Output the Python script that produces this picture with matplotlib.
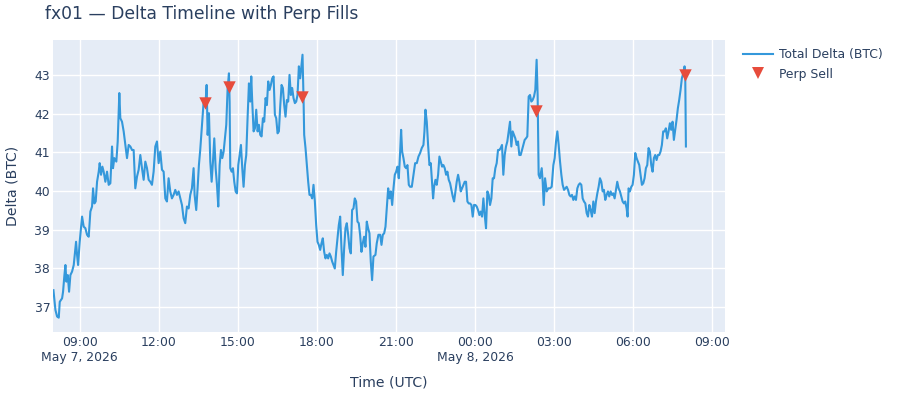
import matplotlib
matplotlib.use("Agg")
import matplotlib.pyplot as plt
from matplotlib.lines import Line2D
import pandas as pd

# ---------------- data ----------------
start_time = "2026-05-07 08:00"

# minutes after start
delta_minutes = [
    0, 4.5, 8.3, 12.1, 14.4, 19.7, 21.9, 25.0, 27.3, 29.5, 32.6, 35.6, 38.6, 42.4, 46.2,
    49.2, 51.5, 53.8, 56.1, 59.8, 65.2, 68.9, 72.7, 76.5, 80.3, 84.1, 87.9, 90.2, 93.2,
    96.2, 99.3, 103.1, 105.3, 108.4, 111.4, 114.4, 118.2, 122.0, 125.8, 129.6, 133.4,
    135.6, 138.7, 143.2, 146.3, 150.0, 152.3, 156.1, 159.9, 163.7, 167.5, 171.3, 175.1,
    178.9, 182.6, 186.4, 190.2, 194.0, 197.8, 201.6, 205.4, 209.2, 213.0, 216.8, 220.5,
    224.3, 228.1, 231.9, 235.7, 239.5, 243.3, 247.1, 250.9, 254.7, 258.4, 262.2, 266.0,
    269.8, 273.6, 277.4, 281.2, 285.0, 288.8, 292.6, 296.3, 300.1, 303.9, 307.7, 311.5,
    315.3, 319.1, 321.4, 325.1, 328.2, 331.2, 334.2,
    338.2, 342.0, 345.8, 348.8, 351.1, 354.1, 357.1, 360.2, 363.2, 366.2, 369.3, 372.3,
    375.3, 378.4, 381.4, 384.4, 387.5, 390.5, 393.5, 396.6, 399.6, 401.1, 402.6, 405.7,
    408.7, 411.7, 414.8, 417.8, 420.8, 423.8, 426.9, 429.9, 432.9, 436.0, 439.0, 442.0,
    445.1, 448.1, 450.4, 452.6, 455.7, 458.7, 461.7, 464.8, 467.8, 470.8, 473.9, 476.9,
    479.9, 483.0, 486.0, 489.0, 492.1, 495.1, 498.1, 501.2, 504.2, 507.2, 510.3, 513.3,
    516.3, 519.4, 522.4, 525.4, 528.4, 531.5, 534.5, 537.5, 540.6, 543.6, 546.6, 549.7,
    552.7, 555.7, 558.8, 561.8, 564.8, 567.1, 569.4, 570.9, 573.9, 577.0, 580.0, 583.0,
    586.1, 589.1, 592.1, 595.2, 598.2, 601.2, 604.2, 607.3, 610.3, 613.3, 616.4, 619.4,
    622.4, 625.5, 628.5, 631.5, 634.6, 637.6, 640.6, 643.7, 646.7, 649.7, 652.8, 655.8,
    658.8, 661.9, 664.9, 667.9, 671.0, 674.0, 677.0, 680.0, 683.1, 686.1, 689.1, 692.2,
    695.2, 698.2, 701.3, 704.3, 707.3, 710.4, 713.4, 716.4, 719.5, 722.5, 725.5, 728.6,
    733.1, 736.1, 739.9,
    743.9, 746.9, 749.9, 753.0, 756.0, 759.0, 762.1, 765.1, 768.1, 771.2, 774.2, 777.2,
    780.3, 783.3, 786.3, 789.4, 791.6, 793.9, 796.9, 800.0, 803.0, 806.0, 809.1, 812.1,
    815.9, 819.7, 823.5, 827.3, 831.1, 834.8, 838.6, 842.4, 844.7, 847.0, 850.0, 853.0,
    856.1, 859.1, 862.1, 864.4, 866.7, 869.7, 872.7, 875.8, 878.8, 881.8, 884.9, 887.9,
    890.9, 894.0, 897.0, 900.0, 903.1, 906.1, 909.1, 912.2, 915.2, 918.2, 921.3, 924.3,
    927.3, 930.3, 933.4, 936.4, 939.4, 942.5, 945.5, 948.5, 951.6, 954.6, 957.6, 960.7,
    963.7, 966.7, 969.8, 972.8, 975.8, 978.9, 981.9, 984.9, 988.0, 991.0, 994.0, 997.1,
    1000.1, 1003.1, 1006.1, 1009.2, 1012.2, 1015.2, 1018.3, 1021.3, 1024.3, 1027.4,
    1030.4, 1033.4, 1036.5, 1039.5, 1042.5, 1045.6, 1048.6, 1051.6, 1054.7, 1057.7,
    1060.7, 1063.8, 1066.8, 1069.8, 1072.9, 1075.9, 1078.9, 1082.0, 1085.0, 1088.0,
    1091.0, 1094.1, 1097.1, 1100.1, 1102.4, 1104.7, 1107.7,
    1111.7, 1113.9, 1116.2, 1119.3, 1123.0, 1126.8, 1130.6, 1134.4, 1138.2, 1141.2,
    1144.3, 1147.3, 1150.3, 1153.4, 1156.4, 1159.4, 1162.5, 1165.5, 1168.5, 1171.6,
    1174.6, 1177.6, 1180.6, 1183.7, 1186.7, 1189.7, 1192.8, 1195.8, 1198.8, 1201.9,
    1204.9, 1207.9, 1211.0, 1214.0, 1217.0, 1220.1, 1223.1, 1226.1, 1229.2, 1232.2,
    1235.2, 1238.3, 1241.3, 1244.3, 1247.4, 1250.4, 1253.4, 1256.4, 1259.5, 1262.5,
    1265.5, 1268.6, 1271.6, 1274.6, 1277.7, 1280.7, 1283.7, 1286.8, 1289.8, 1292.8,
    1295.9, 1298.9, 1301.9, 1305.0, 1307.2, 1309.5, 1312.5, 1315.6, 1318.6, 1321.6,
    1324.7, 1327.7, 1330.7, 1333.8, 1336.8, 1339.8, 1342.9, 1345.9, 1348.9, 1352.0,
    1355.0, 1358.0, 1361.1, 1364.1, 1367.1, 1370.1, 1373.2, 1376.2, 1379.2, 1382.3,
    1385.3, 1388.3, 1391.4, 1394.4, 1397.4, 1400.5, 1403.5, 1406.5, 1409.6, 1412.6,
    1415.6, 1418.7, 1421.7, 1424.7, 1427.8, 1430.8, 1433.8, 1436.9, 1438.4, 1439.1, 1440.0,
]

total_delta_btc = [
    37.44, 36.93, 36.76, 36.73, 37.14, 37.23, 37.40, 37.83, 38.09, 37.66, 37.83, 37.40, 37.83, 37.92, 38.09,
    38.43, 38.69, 38.35, 38.09, 38.69, 39.34, 39.08, 39.04, 38.87, 38.82, 39.47, 39.60, 40.07, 39.68,
    39.73, 40.24, 40.50, 40.72, 40.42, 40.63, 40.50, 40.24, 40.50, 40.16, 40.20, 41.15,
    40.59, 40.85, 40.76, 41.28, 42.53, 41.88, 41.79, 41.54, 41.19, 40.85, 41.19, 41.15,
    41.06, 41.06, 40.07, 40.37, 40.55, 40.93, 40.59, 40.29, 40.76, 40.59, 40.29, 40.24,
    40.16, 40.50, 41.15, 41.28, 40.72, 41.02, 40.55, 40.50, 39.81, 39.73, 40.33, 39.99,
    39.81, 39.90, 40.03, 39.90, 39.99, 39.81, 39.64, 39.30, 39.17, 39.60, 39.55, 39.90,
    40.07, 40.59, 39.90, 39.51, 40.07, 40.67, 41.06,
    41.71, 42.31, 42.18, 42.74, 41.45, 42.01, 40.76, 40.24, 40.76, 41.36, 40.59, 40.16,
    39.60, 40.67, 41.06, 40.85, 41.02, 41.36, 41.71, 42.66, 43.04, 42.31, 40.59, 40.50,
    40.59, 40.24, 39.99, 39.94, 40.67, 40.93, 41.19, 40.59, 40.11, 40.67, 40.93, 41.88,
    42.78, 42.31, 42.96, 42.31, 41.54, 41.62, 42.10, 41.54, 41.71, 41.45, 41.41, 41.88,
    41.79, 42.40, 42.22, 42.83, 42.61, 42.74, 42.91, 42.96, 41.97, 41.88, 41.49, 41.54,
    42.18, 42.74, 42.66, 42.22, 41.92, 42.35, 42.31, 43.00, 42.48, 42.66, 42.40, 42.27,
    42.31, 42.48, 43.22, 42.91, 43.26, 43.52, 42.40, 41.45, 41.11, 40.67, 40.24, 39.90,
    39.90, 39.81, 40.16, 39.73, 39.12, 38.69, 38.61, 38.48, 38.65, 38.78, 38.43, 38.26,
    38.35, 38.26, 38.39, 38.31, 38.18, 38.09, 38.00, 38.43, 38.78, 39.12, 39.34, 38.52,
    37.83, 38.52, 39.04, 39.17, 38.87, 38.52, 38.39, 39.51, 39.55, 39.81, 39.73, 39.21,
    39.17, 38.87, 38.43, 38.65, 38.82, 38.56, 39.21, 39.04, 38.91, 38.18, 37.70, 38.31,
    38.35, 38.65, 38.87,
    38.87, 38.61, 38.87, 38.91, 39.08, 39.55, 40.07, 39.81, 39.99, 39.64, 40.07, 40.42,
    40.50, 40.63, 40.33, 41.02, 41.58, 41.02, 40.85, 40.63, 40.59, 40.67, 40.16, 40.11,
    40.11, 40.42, 40.72, 40.72, 40.89, 40.98, 41.11, 41.19, 41.54, 42.10, 41.79, 41.19,
    40.67, 40.72, 40.20, 39.81, 40.11, 40.29, 40.16, 40.42, 40.89, 40.76, 40.63, 40.67,
    40.59, 40.42, 40.50, 40.29, 40.20, 40.03, 39.86, 39.73, 39.99, 40.24, 40.42, 40.24,
    39.99, 40.07, 40.16, 40.24, 40.24, 39.73, 39.68, 39.68, 39.64, 39.34, 39.64, 39.64,
    39.60, 39.51, 39.38, 39.47, 39.34, 39.81, 39.38, 39.04, 39.99, 39.90, 39.64, 39.81,
    40.33, 40.33, 40.59, 40.72, 41.06, 41.06, 41.11, 41.19, 40.42, 40.93,
    41.15, 41.28, 41.54, 41.79, 41.15, 41.54, 41.45, 41.36, 41.19, 41.28,
    40.93, 40.93, 41.06, 41.19, 41.32, 41.36, 41.41, 42.44, 42.48, 42.31,
    42.35, 42.44, 42.61, 43.39, 42.48, 40.42, 40.33,
    40.59, 40.24, 39.64, 40.33, 39.99, 40.07, 40.07, 40.11, 40.67, 40.85,
    41.28, 41.54, 41.19, 40.76, 40.42, 40.16, 40.03, 40.07, 40.11, 40.03,
    39.90, 39.86, 39.90, 39.77, 39.86, 39.77, 40.07, 40.16, 40.20, 40.16,
    39.81, 39.73, 39.68, 39.43, 39.34, 39.64, 39.51, 39.34, 39.73, 39.43,
    39.73, 39.94, 40.11, 40.33, 40.24, 39.99, 40.03, 39.77, 39.90, 39.99,
    39.86, 39.99, 39.90, 39.94, 39.81, 40.03, 40.24, 40.07, 39.99, 39.86,
    39.73, 39.68, 39.73, 39.55, 39.34, 40.07, 39.99, 40.11, 40.16, 40.42,
    40.98, 40.85, 40.76, 40.67, 40.42, 40.16, 40.20, 40.33, 40.59, 40.67,
    41.11, 41.02, 40.67, 40.50, 40.85, 40.93, 40.80, 40.93, 40.93, 41.02,
    41.19, 41.54, 41.54, 41.62, 41.36, 41.54, 41.75, 41.58, 41.79, 41.32,
    41.58, 41.84, 42.14, 42.35, 42.61, 42.91, 43.04, 43.22, 43.09, 42.31, 41.15,
]

# perp sell fills
fill_minutes = [346, 399, 567, 1099, 1438]
fill_delta_btc = [42.27, 42.68, 42.43, 42.07, 43.00]

x_tick_times = ["2026-05-07 09:00", "2026-05-07 12:00", "2026-05-07 15:00",
                "2026-05-07 18:00", "2026-05-07 21:00", "2026-05-08 00:00",
                "2026-05-08 03:00", "2026-05-08 06:00", "2026-05-08 09:00"]
x_tick_labels = ["09:00\nMay 7, 2026", "12:00", "15:00", "18:00", "21:00",
                 "00:00\nMay 8, 2026", "03:00", "06:00", "09:00"]
y_ticks = [37, 38, 39, 40, 41, 42, 43]

# ---------------- styling ----------------
TEXT = "#2a3f5f"
BG = "#E5ECF6"
LINE = "#3498db"
MARK = "#e74c3c"
plt.rcParams["font.family"] = ["DejaVu Sans"]

t0 = pd.Timestamp(start_time)
times = t0 + pd.to_timedelta(delta_minutes, unit="m")
fill_times = t0 + pd.to_timedelta(fill_minutes, unit="m")

fig = plt.figure(figsize=(9, 4), dpi=100)
ax = fig.add_axes([53 / 900, 1 - 332 / 400, (725 - 53) / 900, (332 - 40) / 400])
ax.set_facecolor(BG)
for s in ax.spines.values():
    s.set_visible(False)

ax.plot(times, total_delta_btc, color=LINE, lw=1.5, zorder=3, solid_joinstyle="round")
ax.scatter(fill_times, fill_delta_btc, marker="v", s=80, color=MARK, zorder=4, linewidths=0)

ax.set_xlim(t0 - pd.Timedelta(minutes=1), t0 + pd.Timedelta(minutes=1529))
ax.set_ylim(36.36, 43.9)

ax.set_xticks(pd.to_datetime(x_tick_times))
ax.set_xticklabels(x_tick_labels, fontsize=8.9, color=TEXT, linespacing=1.2, va="top")
ax.set_yticks(y_ticks)
ax.set_yticklabels([str(v) for v in y_ticks], fontsize=8.9, color=TEXT)
ax.tick_params(axis="both", length=0)
ax.tick_params(axis="x", pad=3)
ax.tick_params(axis="y", pad=2)
ax.grid(True, color="white", lw=1.0)
ax.set_axisbelow(True)

fig.text(389 / 900, 1 - 383 / 400, "Time (UTC)", fontsize=10.1, color=TEXT,
         ha="center", va="center")
fig.text(12.5 / 900, 1 - 186 / 400, "Delta (BTC)", rotation=90, fontsize=10.1,
         color=TEXT, ha="center", va="center")

fig.text(45 / 900, 1 - 14 / 400, "fx01 — Delta Timeline with Perp Fills",
         fontsize=12.3, color=TEXT, ha="left", va="center")

handles = [Line2D([], [], color=LINE, lw=1.5),
           Line2D([], [], color=MARK, marker="v", ls="none", markersize=8.5, markeredgewidth=0)]
fig.legend(handles, ["Total Delta (BTC)", "Perp Sell"], loc="upper left",
           bbox_to_anchor=(741 / 900, 1 - 46 / 400), frameon=False, fontsize=8.9,
           handlelength=2.4, handletextpad=0.45, labelspacing=0.5, labelcolor=TEXT,
           borderaxespad=0, borderpad=0.2)

fig.savefig("out.png", dpi=100, facecolor="white")
